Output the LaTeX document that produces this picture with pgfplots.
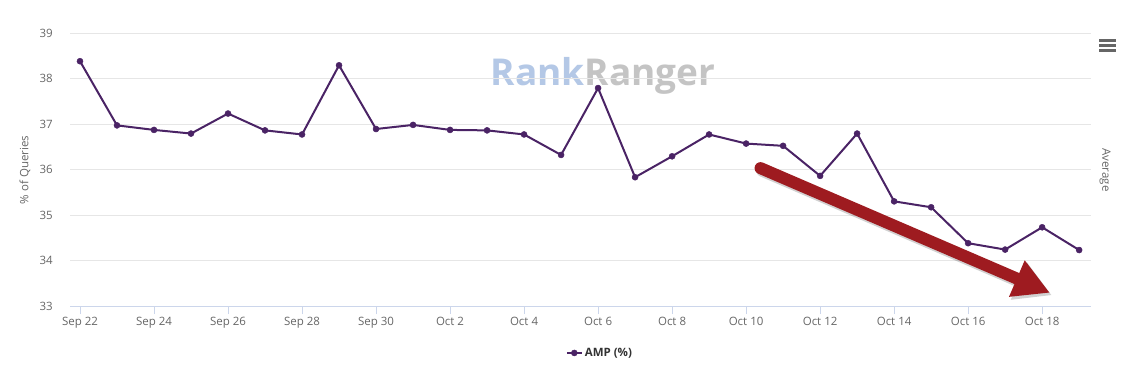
\documentclass[border=0pt]{standalone}
\usepackage{fontspec}
\setmainfont{Open Sans}
\usepackage{pgfplots}
\pgfplotsset{compat=1.18}
\usetikzlibrary{arrows.meta}
\definecolor{linec}{RGB}{74,35,101}
\definecolor{tickc}{RGB}{102,102,102}
\definecolor{gridc}{RGB}{230,230,230}
\definecolor{xaxc}{RGB}{204,214,235}
\definecolor{arrowred}{RGB}{158,27,32}
\definecolor{rrblue}{RGB}{180,200,230}
\definecolor{rrgray}{RGB}{196,196,196}
\definecolor{legc}{RGB}{51,51,51}
\begin{document}
\begin{tikzpicture}
\path[use as bounding box] (0bp,0bp) rectangle (1129bp,374bp);
% watermark
\node[anchor=center,inner sep=0pt] at (603bp,298bp) {\fontsize{37bp}{40bp}\selectfont\bfseries\textcolor{rrblue}{Rank}\textcolor{rrgray}{Ranger}};
\begin{axis}[
  at={(70bp,68bp)}, anchor=south west,
  width=1021bp, height=273bp, scale only axis,
  clip=false,
  xmin=-0.27, xmax=27.32, ymin=33, ymax=39,
  ytick={33,34,35,36,37,38,39},
  xtick={0,2,...,26},
  xticklabels={Sep 22,Sep 24,Sep 26,Sep 28,Sep 30,Oct 2,Oct 4,Oct 6,Oct 8,Oct 10,Oct 12,Oct 14,Oct 16,Oct 18},
  axis x line=bottom, axis y line=left,
  x axis line style={draw=xaxc,-},
  y axis line style={draw=none},
  ytick style={draw=none},
  xtick style={draw=xaxc},
  xtick align=outside,
  major tick length=8bp,
  ymajorgrids, grid style={gridc, line width=0.8bp},
  tick label style={font=\fontsize{11.5bp}{13bp}\selectfont, text=tickc},
  yticklabel style={anchor=east, inner sep=0pt, xshift=-13bp},
  xticklabel style={anchor=north, inner sep=0pt, yshift=-3bp},
  /pgf/number format/assume math mode=true,
  legend style={at={(0.519,-0.172)}, anchor=center, draw=none, fill=none,
    font=\fontsize{11.5bp}{13bp}\selectfont\bfseries, text=legc},
  legend image code/.code={\draw[mark repeat=2,mark phase=2] plot coordinates {(0bp,0bp)(7.5bp,0bp)(15bp,0bp)};},
]
\addplot[color=linec, line width=2bp, mark=*, mark size=3bp, mark options={fill=linec, draw=linec, line width=0.5bp}] coordinates {
(0,38.38) (1,36.97) (2,36.87) (3,36.79) (4,37.23) (5,36.86) (6,36.77) (7,38.29)
(8,36.89) (9,36.98) (10,36.87) (11,36.86) (12,36.77) (13,36.32) (14,37.79) (15,35.83)
(16,36.29) (17,36.77) (18,36.57) (19,36.52) (20,35.86) (21,36.79) (22,35.30) (23,35.17)
(24,34.38) (25,34.24) (26,34.73) (27,34.23)
};
\addlegendentry{AMP (\%)}
% annotation arrow
\draw[line width=12.5bp, color=black, opacity=0.18, line cap=round, -{Triangle[length=36bp,width=38bp]}] ([xshift=2bp,yshift=-2.5bp]axis cs:18.39,36.03) -- ([xshift=2bp,yshift=-2.5bp]axis cs:26.21,33.29);
\draw[line width=12bp, color=arrowred, line cap=round, -{Triangle[length=36bp,width=37bp]}] (axis cs:18.39,36.03) -- (axis cs:26.21,33.29);
\end{axis}
% y label
\node[rotate=90, text=tickc, inner sep=0pt] at (25bp,204bp) {\fontsize{11.5bp}{13bp}\selectfont \% of Queries};
% right label
\node[rotate=-90, text=tickc, inner sep=0pt] at (1105bp,204bp) {\fontsize{11.5bp}{13bp}\selectfont Average};
% menu icon
\foreach \yy in {333.3,328.7,323.7} {
  \draw[line width=2.6bp, color=tickc] (1099bp,\yy bp) -- (1116bp,\yy bp);
}
\end{tikzpicture}
\end{document}
